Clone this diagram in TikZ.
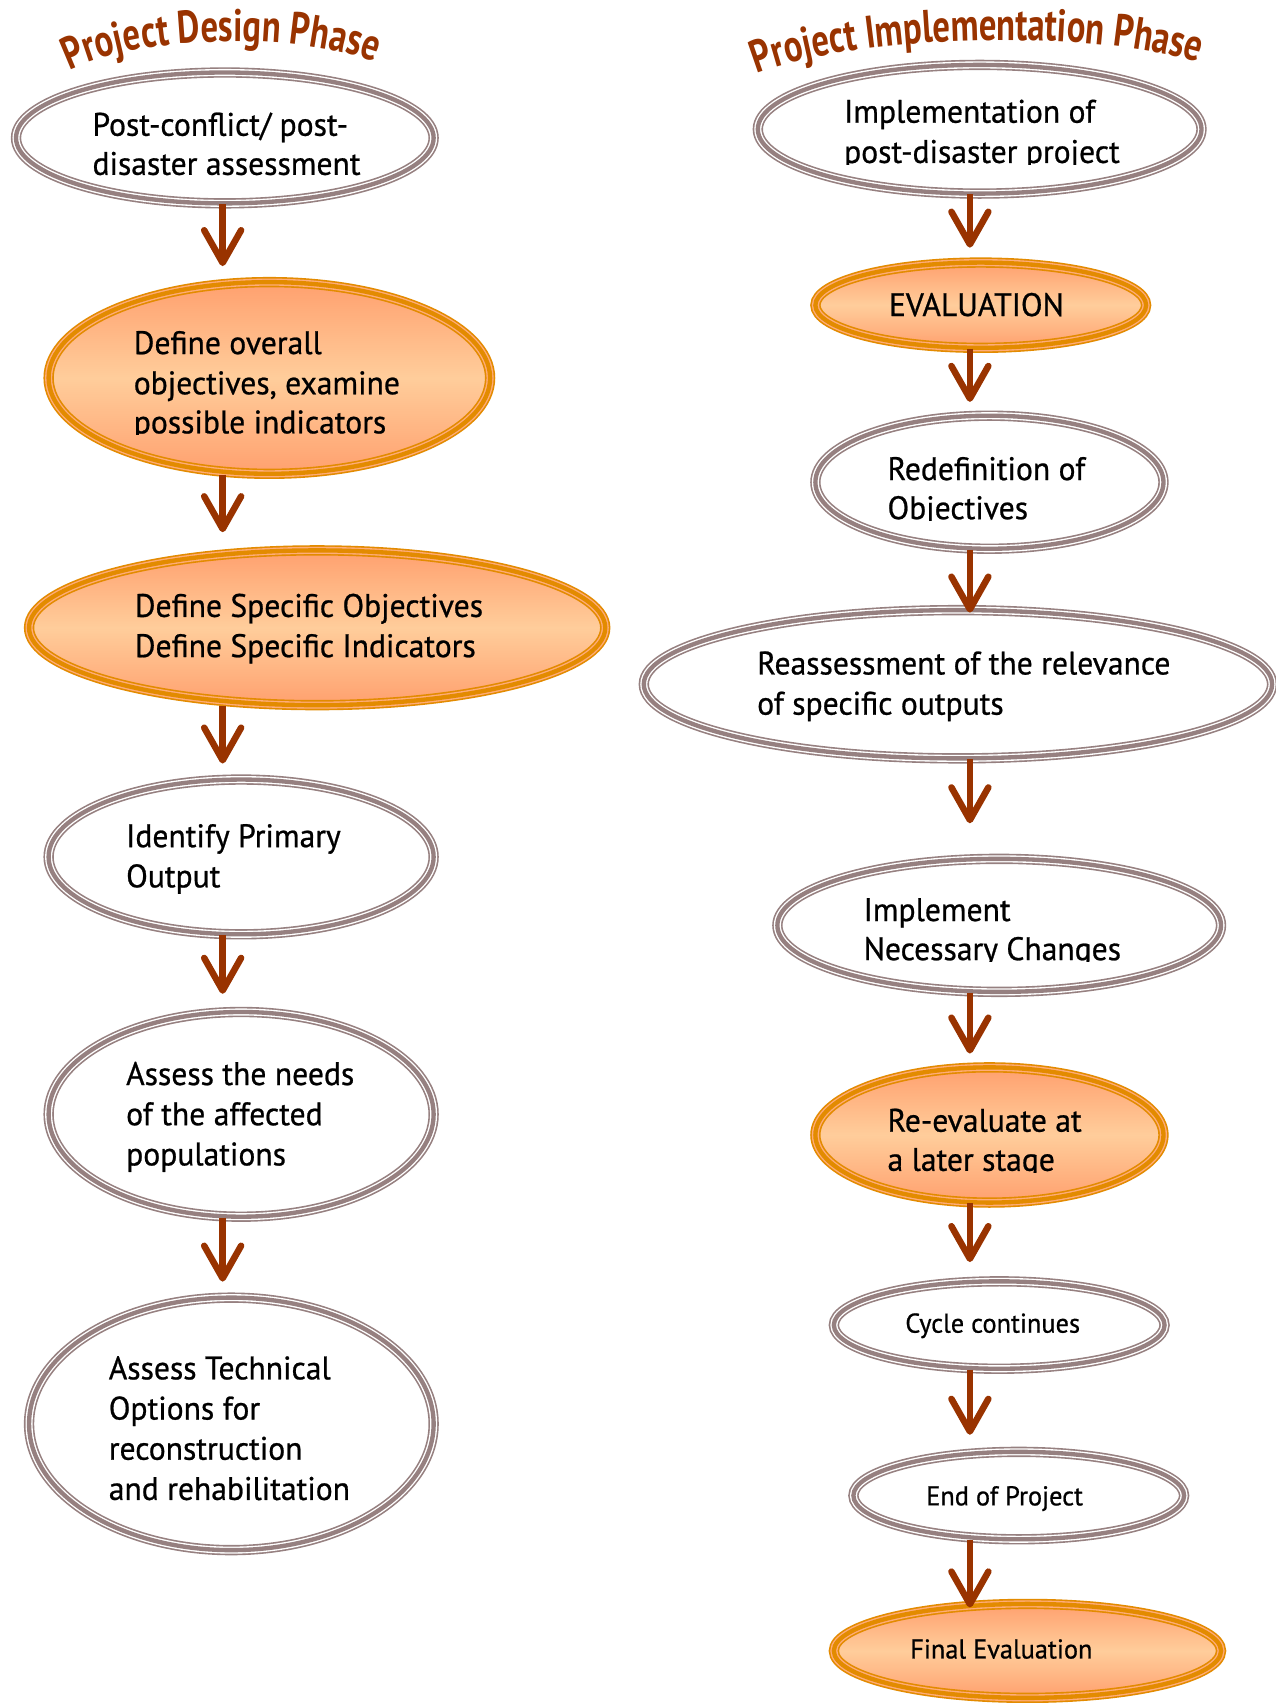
\documentclass[tikz,border=0pt]{standalone}
\usepackage{fontspec}
\setmainfont[FakeStretch=0.97,FakeBold=0.7]{PT Sans}
\newfontfamily\titlefamily[FakeStretch=0.76]{PT Sans}
\usetikzlibrary{arrows.meta,decorations.text,shapes.geometric,calc}
\definecolor{ring}{RGB}{150,128,128}
\definecolor{orng}{RGB}{227,139,0}
\definecolor{orgap}{RGB}{255,172,120}
\definecolor{fillD}{RGB}{255,160,110}
\definecolor{fillL}{RGB}{255,205,155}
\definecolor{brn}{RGB}{153,51,0}
\newcommand\titlefont{\titlefamily\bfseries\fontsize{42}{46}\selectfont\color{brn}}
\tikzset{
  greyoval/.style={ellipse, inner sep=0pt, draw=ring, line width=9.5pt, fill=white,
    postaction={draw=white, line width=6.5pt}, postaction={draw=ring, line width=4pt}},
  orangeoval/.style={ellipse, inner sep=0pt, draw=orng, line width=9.5pt,
    top color=fillD, bottom color=fillD, middle color=fillL,
    postaction={draw=orgap, line width=6.5pt}, postaction={draw=orng, line width=4pt}},
  txt/.style={anchor=base west, inner sep=0pt, font=\fontsize{30}{36}\selectfont},
  ctxt/.style={anchor=base, inner sep=0pt, font=\fontsize{30}{36}\selectfont},
  stxt/.style={anchor=base, inner sep=0pt, font=\fontsize{25}{30}\selectfont},
  arr/.style={draw=brn, line width=6pt, shorten <=-4pt,
    -{Straight Barb[length=30pt, width=34pt, round]}},
}
\newcommand\myoval[6]{\node[#6, minimum width={2*#4-9.5}, minimum height={2*#5-9.5}] (#1) at (#2,#3) {};}
\newcommand\cliptxt[4]{\begin{scope}\clip (#2-10,#3-40) rectangle (#2+600,#3+1.5);\node[txt] (#1) at (#2,#3) {#4};\end{scope}}
\begin{document}
\begin{tikzpicture}[x=1pt,y=-1pt]
\useasboundingbox (0,0) rectangle (1174,1568);
\fill[white] (0,0) rectangle (1174,1568);
% titles
\path[decorate, decoration={text along path, text={|\titlefont|Project Design Phase}, text align={align=center}}]
  (48,74) .. controls (112,30) and (282,26) .. (362,64);
\path[decorate, decoration={text along path, text={|\titlefont|Project Implementation Phase}, text align={align=center}}]
  (683,74) .. controls (773,30) and (1013,24) .. (1118,62);
% left column
\myoval{e1}{207}{127}{197}{65}{greyoval}
\myoval{e2}{248}{348}{208}{93}{orangeoval}
\myoval{e3}{292}{578}{270}{76}{orangeoval}
\myoval{e4}{222}{789}{182}{76}{greyoval}
\myoval{e5}{222}{1026}{182}{99}{greyoval}
\myoval{e6}{213}{1311}{191}{121}{greyoval}
\node[txt] (t1a) at (85,125) {Post-conflict/ post-};
\node[txt] (t1b) at (85,161) {disaster assessment};
\node[txt] (t2a) at (123,326) {Define overall};
\node[txt] (t2b) at (123,363) {objectives, examine};
\cliptxt{t2c}{123}{399}{possible indicators}
\node[txt] (t3a) at (124,568) {Define Specific Objectives};
\node[txt] (t3b) at (124,605) {Define Specific Indicators};
\node[txt] (t4a) at (116,780) {Identify Primary};
\node[txt] (t4b) at (116,817) {Output};
\node[txt] (t5a) at (116,999) {Assess the needs};
\node[txt] (t5b) at (116,1036) {of the affected};
\node[txt] (t5c) at (116,1073) {populations};
\node[txt] (t6a) at (100,1270) {Assess Technical};
\node[txt] (t6b) at (100,1307) {Options for};
\node[txt] (t6c) at (100,1344) {reconstruction};
\node[txt] (t6d) at (100,1381) {and rehabilitation};
% right column
\myoval{r1}{902}{119}{209}{64}{greyoval}
\myoval{r2}{903}{281}{157}{44}{orangeoval}
\myoval{r3}{911}{444}{165}{66}{greyoval}
\myoval{r4}{882}{630}{294}{73}{greyoval}
\myoval{r5}{920}{852}{209}{66}{greyoval}
\myoval{r6}{911}{1045}{165}{67}{orangeoval}
\myoval{r7}{920}{1220}{157}{45}{greyoval}
\myoval{r8}{938}{1377}{157}{45}{greyoval}
\myoval{r9}{946}{1520}{183}{48}{orangeoval}
\node[txt] (s1a) at (777,113) {Implementation of};
\cliptxt{s1b}{777}{150}{post-disaster project}
\node[ctxt] (s2) at (899,291) {EVALUATION};
\node[txt] (s3a) at (817,442) {Redefinition of};
\cliptxt{s3b}{817}{478}{Objectives}
\node[txt] (s4a) at (697,621) {Reassessment of the relevance};
\node[txt] (s4b) at (697,658) {of specific outputs};
\node[txt] (s5a) at (795,848) {Implement};
\cliptxt{s5b}{795}{884}{Necessary Changes}
\node[txt] (s6a) at (817,1042) {Re-evaluate at};
\cliptxt{s6b}{817}{1078}{a later stage}
\node[stxt] (s7) at (914,1227) {Cycle continues};
\node[stxt] (s8) at (925,1386) {End of Project};
\node[stxt] (s9) at (922,1527) {Final Evaluation};
% arrows
\coordinate (axL) at (205,0);
\coordinate (axR) at (893,0);
\draw[arr, shorten >=10pt] (axL |- e1.south) -- (axL |- e2.north);
\draw[arr, shorten >=12pt] (axL |- e2.south) -- (axL |- e3.north);
\draw[arr, shorten >=10pt] (axL |- e3.south) -- (axL |- e4.north);
\draw[arr, shorten >=12pt] (axL |- e4.south) -- (axL |- e5.north);
\draw[arr, shorten >=10pt] (axL |- e5.south) -- (axL |- e6.north);
\draw[arr, shorten >=9pt] (axR |- r1.south) -- (axR |- r2.north);
\draw[arr, shorten >=8pt] (axR |- r2.south) -- (axR |- r3.north);
\draw[arr, shorten >=-7pt] (axR |- r3.south) -- (axR |- r4.north);
\draw[arr, shorten >=28pt] (axR |- r4.south) -- (axR |- r5.north);
\draw[arr, shorten >=8pt] (axR |- r5.south) -- (axR |- r6.north);
\draw[arr, shorten >=13pt] (axR |- r6.south) -- (axR |- r7.north);
\draw[arr, shorten >=11pt] (axR |- r7.south) -- (axR |- r8.north);
\draw[arr, shorten >=-8pt] (axR |- r8.south) -- (axR |- r9.north);
\end{tikzpicture}
\end{document}
